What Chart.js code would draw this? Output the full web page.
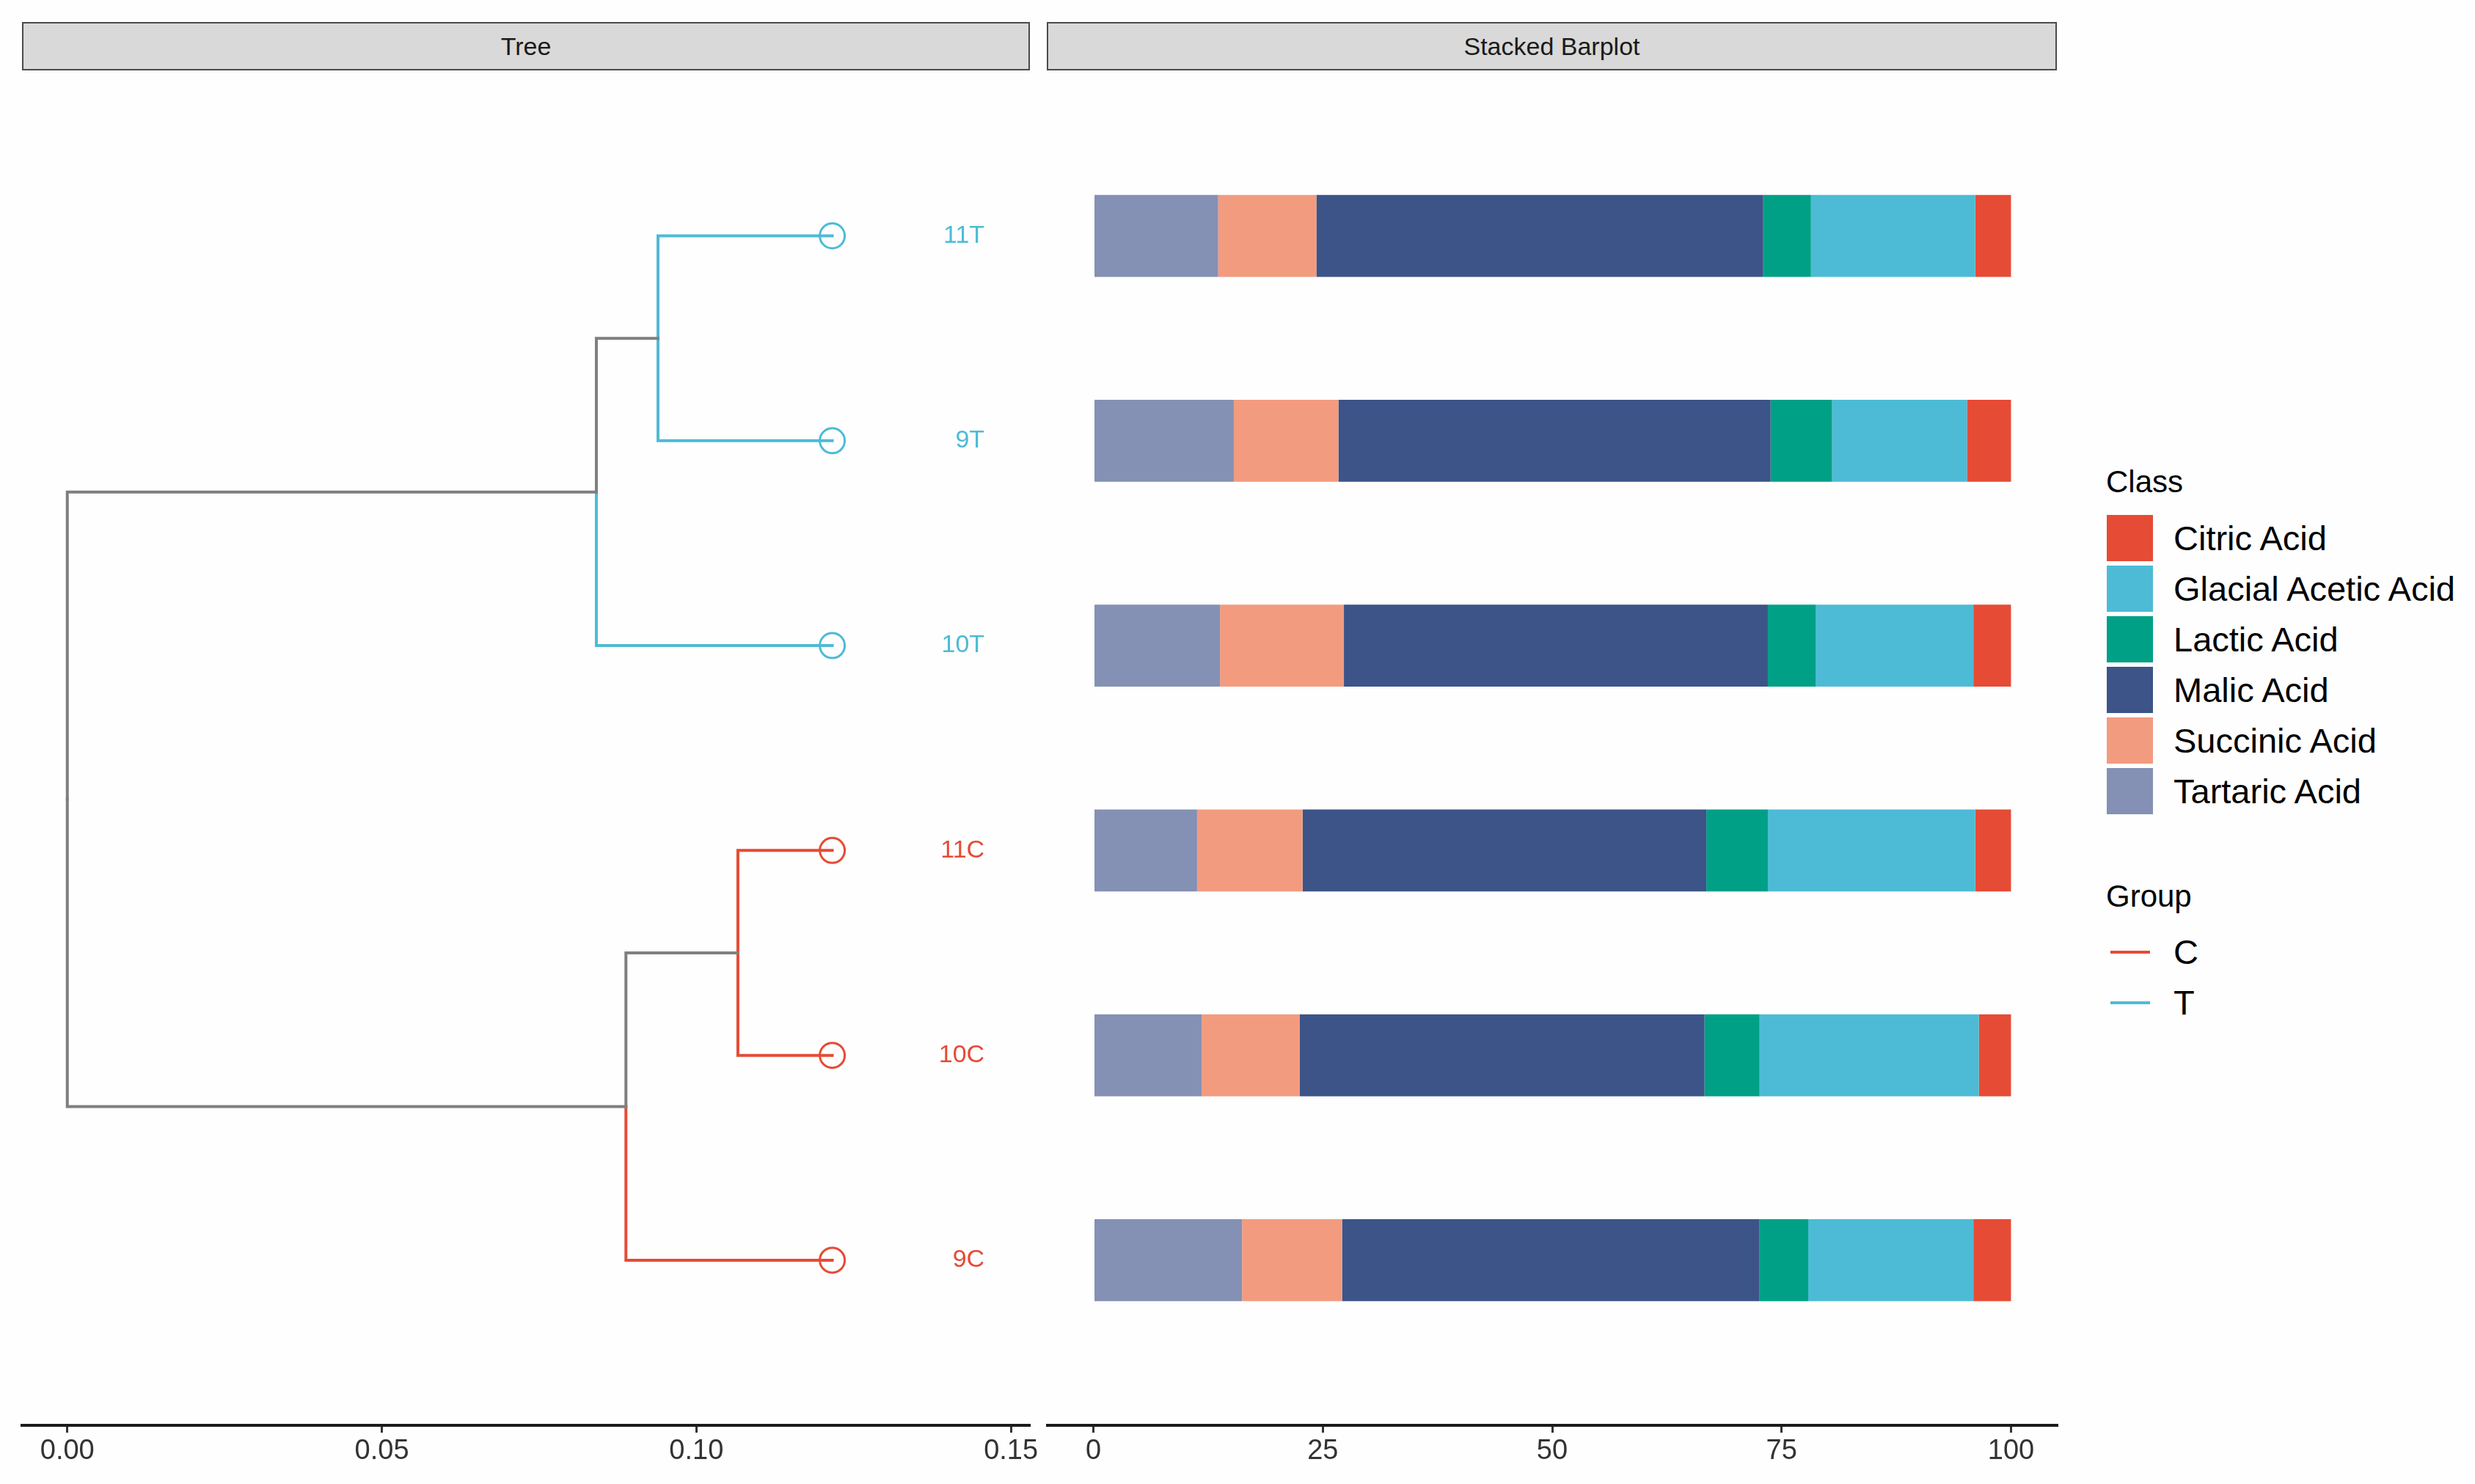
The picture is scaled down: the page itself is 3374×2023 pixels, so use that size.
<!DOCTYPE html>
<html><head><meta charset="utf-8">
<script src="https://cdn.jsdelivr.net/npm/chart.js@4.4.1/dist/chart.umd.min.js"></script>
<style>
html,body{margin:0;padding:0;background:#fefefe;width:3374px;height:2023px;overflow:hidden;font-family:"Liberation Sans",Arial,sans-serif;}
.strip{position:absolute;top:30px;height:66px;box-sizing:border-box;background:#d9d9d9;border:2px solid #4a4a4a;color:#1a1a1a;font-size:34px;line-height:62px;text-align:center;}
canvas{position:absolute;top:0;}
.leg{position:absolute;color:#000;white-space:nowrap;}
.ttl{font-size:42px;}
.lab{font-size:47px;line-height:47px;}
.key{position:absolute;width:63px;height:63px;}
.lkey{position:absolute;width:54px;height:4px;}
</style>
</head><body>
<div class="strip" style="left:30px;width:1374px;">Tree</div>
<div class="strip" style="left:1427px;width:1377px;">Stacked Barplot</div>
<canvas id="tree" width="1453" height="2023" style="left:0px;"></canvas>
<canvas id="bars" width="1476" height="2023" style="left:1378px;"></canvas>
<div id="legend"></div>
<script>
// ---- data ----
const sampleLabels = ['9C','10C','11C','10T','9T','11T'];
const sampleGroups = ['C','C','C','T','T','T'];
const groupNames = ['C','T'];
const groupColors = ['#E64B35','#4DBBD5'];
const classNames = ['Tartaric Acid','Succinic Acid','Malic Acid','Lactic Acid','Glacial Acetic Acid','Citric Acid'];
const classColors = ['#8491B4','#F39B7F','#3C5488','#00A087','#4DBBD5','#E64B35'];
const tartaric = [16.2, 11.8, 11.3, 13.8, 15.3, 13.6];
const succinic = [10.9, 10.7, 11.5, 13.5, 11.4, 10.7];
const malic    = [45.5, 44.1, 44.0, 46.2, 47.1, 48.7];
const lactic   = [5.3, 6.0, 6.7, 5.2, 6.7, 5.2];
const glacial  = [18.0, 23.9, 22.6, 17.2, 14.7, 17.9];
const citric   = [4.1, 3.5, 3.9, 4.1, 4.8, 3.9];
const classValues = [tartaric, succinic, malic, lactic, glacial, citric];
const legendOrder = ['Citric Acid','Glacial Acetic Acid','Lactic Acid','Malic Acid','Succinic Acid','Tartaric Acid'];

// tree: internal nodes and their depth (branch length from root)
const nodeNames = ['root','T','T1','C','C1'];
const nodeDepth = [0, 0.0841, 0.0939, 0.0888, 0.1066];
const tipDepth = [0.1216, 0.1216, 0.1216, 0.1216, 0.1216, 0.1216];
const edgeParent = ['root','root','T','T','T1','T1','C','C','C1','C1'];
const edgeChild  = ['T','C','T1','10T','11T','9T','C1','9C','11C','10C'];
const treeTicks = [0, 0.05, 0.10, 0.15];
const barTicks = [0, 25, 50, 75, 100];

// ---- layout constants ----
const yMin = 0.194, yMax = 6.804;
const FONT = '"Liberation Sans", Arial, sans-serif';
const branchGray = '#7f7f7f';
const labelOffset = 0.0242;

// compute node positions
const pos = {};
sampleLabels.forEach((s,i)=>{ pos[s] = {x: tipDepth[i], y: i+1, color: groupColors[groupNames.indexOf(sampleGroups[i])]}; });
nodeNames.forEach((n,i)=>{ pos[n] = {x: nodeDepth[i], y: null, color: branchGray}; });
function nodeY(n){
  if (pos[n].y !== null) return pos[n].y;
  const kids = edgeChild.filter((c,i)=>edgeParent[i]===n);
  const ys = kids.map(nodeY);
  pos[n].y = ys.reduce((a,b)=>a+b,0)/ys.length;
  return pos[n].y;
}
nodeNames.forEach(nodeY);

const treeDatasets = edgeParent.map((p,i)=>{
  const c = edgeChild[i];
  return {
    type:'line',
    data:[{x:pos[p].x,y:pos[p].y},{x:pos[p].x,y:pos[c].y},{x:pos[c].x,y:pos[c].y}],
    borderColor: pos[c].color, borderWidth:4, pointRadius:0, fill:false, tension:0,
    borderJoinStyle:'miter', borderCapStyle:'square', order:2
  };
});
treeDatasets.push({
  type:'scatter',
  data: sampleLabels.map((s,i)=>({x:tipDepth[i], y:i+1})),
  pointStyle:'circle', pointRadius:17, pointBorderWidth:3,
  pointBackgroundColor:'rgba(0,0,0,0)',
  pointBorderColor: sampleGroups.map(g=>groupColors[groupNames.indexOf(g)]),
  showLine:false, order:1
});

const tipLabelPlugin = {
  id:'tipLabels',
  afterDatasetsDraw(chart){
    const ctx = chart.ctx, xs = chart.scales.x, ys = chart.scales.y;
    ctx.save();
    ctx.font = '34px ' + FONT;
    ctx.textAlign = 'right';
    ctx.textBaseline = 'middle';
    sampleLabels.forEach((s,i)=>{
      ctx.fillStyle = groupColors[groupNames.indexOf(sampleGroups[i])];
      ctx.fillText(s, xs.getPixelForValue(tipDepth[i] + labelOffset), ys.getPixelForValue(i+1));
    });
    ctx.restore();
  }
};

function xAxis(min, max, ticks, fmt){
  return {
    type:'linear', min:min, max:max, offset:false,
    afterBuildTicks: s => { s.ticks = ticks.map(v=>({value:v})); },
    afterFit: s => { s.height = 80; },
    ticks:{ callback: fmt, color:'#333', font:{size:38, family:FONT}, autoSkip:false, maxRotation:0, padding:3 },
    grid:{ display:true, drawOnChartArea:false, drawTicks:true, tickLength:10, color:'#333', lineWidth:3, offset:false },
    border:{ display:true, color:'#1a1a1a', width:4 }
  };
}
function yAxis(){
  return { type:'linear', min:yMin, max:yMax, display:false, offset:false,
    grid:{offset:false},
    afterBuildTicks: s => { s.ticks = sampleLabels.map((_,i)=>({value:i+1})); } };
}

Chart.defaults.font.family = FONT;

new Chart(document.getElementById('tree'), {
  type:'scatter',
  data:{ datasets: treeDatasets },
  options:{
    responsive:false, animation:false, devicePixelRatio:1,
    layout:{ padding:{ left:30, right:50, top:97, bottom:0 } },
    plugins:{ legend:{display:false}, tooltip:{enabled:false} },
    scales:{
      x: xAxis(-0.0072, 0.1529, treeTicks, v => Number(v).toFixed(2)),
      y: yAxis()
    }
  },
  plugins:[tipLabelPlugin]
});

new Chart(document.getElementById('bars'), {
  type:'bar',
  data:{ datasets: classNames.map((name,k)=>({
    label:name,
    data: sampleLabels.map((s,i)=>({x:classValues[k][i], y:i+1})),
    backgroundColor: classColors[k], borderWidth:0,
    barPercentage:0.4, categoryPercentage:1
  })) },
  options:{
    indexAxis:'y', responsive:false, animation:false, devicePixelRatio:1,
    layout:{ padding:{ left:50, right:50, top:97, bottom:0 } },
    plugins:{ legend:{display:false}, tooltip:{enabled:false} },
    scales:{
      x: Object.assign(xAxis(-5, 105, barTicks, v => String(v)), {stacked:true}),
      y: Object.assign(yAxis(), {stacked:true})
    }
  }
});

// ---- legend (HTML) ----
const leg = document.getElementById('legend');
let html = '<div class="leg ttl" style="left:2871px;top:633px;">Class</div>';
legendOrder.forEach((name,i)=>{
  const top = 702 + i*69;
  const col = classColors[classNames.indexOf(name)];
  html += `<div class="key" style="left:2872px;top:${top}px;background:${col};"></div>`;
  html += `<div class="leg lab" style="left:2963px;top:${top+8}px;">${name}</div>`;
});
html += '<div class="leg ttl" style="left:2871px;top:1198px;">Group</div>';
groupNames.forEach((g,i)=>{
  const cy = 1298 + i*69;
  html += `<div class="lkey" style="left:2877px;top:${cy-2}px;background:${groupColors[i]};"></div>`;
  html += `<div class="leg lab" style="left:2963px;top:${cy-24}px;">${g}</div>`;
});
leg.innerHTML = html;
</script>
</body></html>
